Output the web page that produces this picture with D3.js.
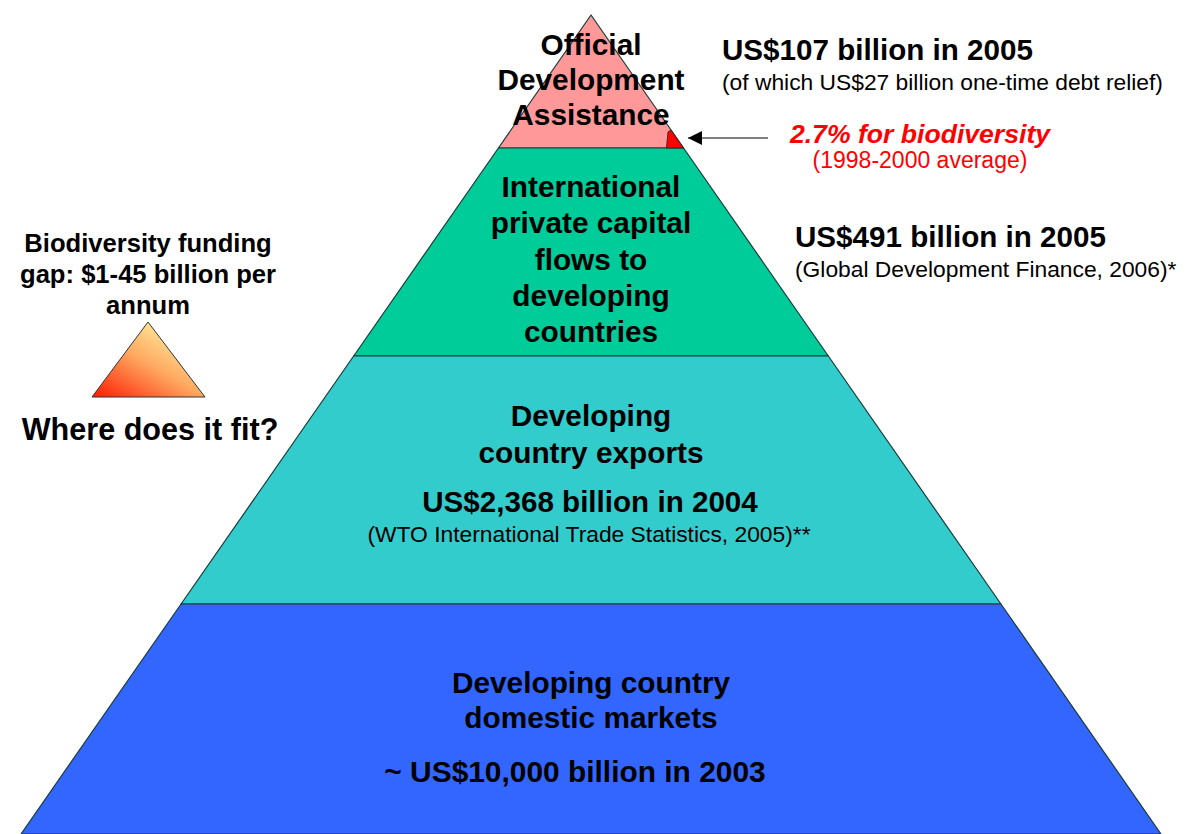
<!DOCTYPE html>
<html>
<head>
<meta charset="utf-8">
<script src="https://cdn.jsdelivr.net/npm/d3@7"></script>
<style>
	html, body { margin: 0; padding: 0; background: #fff; }
	svg { display: block; font-family: 'Liberation Sans', Arial, sans-serif; }
</style>
</head>
<body>
<div id="canvas"></div>
<script>
// tiers, top to bottom
const tierLabels = [
	['Official', 'Development', 'Assistance'],
	['International', 'private capital', 'flows to', 'developing', 'countries'],
	['Developing', 'country exports'],
	['Developing country', 'domestic markets']
];
const tierValues = [107, 491, 2368, 10000]; // US$ billion
const tierYears = [2005, 2005, 2004, 2003];
const tierValueText = ['US$107 billion in 2005', 'US$491 billion in 2005', 'US$2,368 billion in 2004', '~ US$10,000 billion in 2003'];
const tierNotes = ['(of which US$27 billion one-time debt relief)', '(Global Development Finance, 2006)*', '(WTO International Trade Statistics, 2005)**', ''];
const tierColors = ['#FF9999', '#00CC99', '#33CCCC', '#3366FF'];

const bioShare = 2.7; // % of ODA
const bioText = ['2.7% for biodiversity', '(1998-2000 average)'];
const gapText = ['Biodiversity funding', 'gap: $1-45 billion per', 'annum'];
const fitText = 'Where does it fit?';

function onLoad () {
	const w = 1186, h = 834;
	const apex = [591, 15];
	const bounds = [15, 148, 356, 604, 834]; // tier boundaries (px)
	const noteSize = '22.8px';
	const valueSize = '29.6px';

	const svg = d3.select('#canvas').append('svg')
		.attr('width', w)
		.attr('height', h)
		.attr('viewBox', [0, 0, w, h]);

	// half width of the pyramid at a given y
	const half = d3.scaleLinear()
		.domain([apex[1], h])
		.range([0, 570]);

	const tiers = tierLabels.map((d, i) => ({
		lines: d, value: tierValues[i], year: tierYears[i], text: tierValueText[i], note: tierNotes[i],
		color: tierColors[i], y0: bounds[i], y1: bounds[i + 1]
	}));

	svg.append('g').attr('class', 'tiers')
	.selectAll('path').data(tiers).join('path')
		.attr('d', d => {
			const pts = d.y0 === apex[1]
				? [apex, [apex[0] + half(d.y1), d.y1], [apex[0] - half(d.y1), d.y1]]
				: [[apex[0] - half(d.y0), d.y0], [apex[0] + half(d.y0), d.y0], [apex[0] + half(d.y1), d.y1], [apex[0] - half(d.y1), d.y1]];
			return d3.line()(pts) + 'Z';
		})
		.style('fill', d => d.color)
		.style('stroke', '#1a3a3a')
		.style('stroke-width', 1.2)
		.style('stroke-linejoin', 'round');

	// biodiversity sliver in the ODA corner
	const oda = tiers[0];
	const sh = Math.sqrt(bioShare) * 11; // small corner triangle
	const bx = apex[0] + half(oda.y1);
	svg.append('path')
		.attr('d', d3.line()([[apex[0] + half(oda.y1 - sh), oda.y1 - sh], [bx, oda.y1], [bx - sh * 0.95, oda.y1], [apex[0] + half(oda.y1 - sh) - 3, oda.y1 - sh + 2]]) + 'Z')
		.style('fill', '#FF0000')
		.style('stroke', '#222')
		.style('stroke-width', 0.8);

	// labels inside tiers
	const labelPos = [[55, 35], [197, 36.3], [426, 37], [693, 35]];
	const lab = svg.append('g').attr('class', 'tier-labels')
		.style('font-weight', 'bold')
		.style('font-size', '29.8px')
		.attr('text-anchor', 'middle');
	tiers.forEach((d, i) => {
		lab.append('text')
			.selectAll('tspan').data(d.lines).join('tspan')
			.attr('x', apex[0])
			.attr('y', (c, j) => labelPos[i][0] + j * labelPos[i][1])
			.text(c => c);
	});

	// values inside the lower tiers
	svg.append('text')
		.attr('x', apex[0] - 1).attr('y', 512)
		.attr('text-anchor', 'middle')
		.style('font-weight', 'bold').style('font-size', valueSize)
		.text(tiers[2].text);
	svg.append('text')
		.attr('x', apex[0] - 2).attr('y', 542)
		.attr('text-anchor', 'middle')
		.style('font-size', noteSize)
		.text(tiers[2].note);
	svg.append('text')
		.attr('x', 575).attr('y', 782)
		.attr('text-anchor', 'middle')
		.style('font-weight', 'bold').style('font-size', '29.9px')
		.text(tiers[3].text);

	// values to the right of the upper tiers
	const side = [[722, 60, 90], [795, 247, 277]];
	side.forEach((p, i) => {
		svg.append('text')
			.attr('x', p[0]).attr('y', p[1])
			.style('font-weight', 'bold').style('font-size', valueSize)
			.text(tiers[i].text);
		svg.append('text')
			.attr('x', p[0]).attr('y', p[2])
			.style('font-size', noteSize)
			.text(tiers[i].note);
	});

	// arrow pointing to the biodiversity sliver
	svg.append('defs').append('marker')
		.attr('id', 'head')
		.attr('viewBox', '0 0 10 10')
		.attr('refX', 10).attr('refY', 5)
		.attr('markerWidth', 14).attr('markerHeight', 14)
		.attr('markerUnits', 'userSpaceOnUse')
		.attr('orient', 'auto')
	.append('path')
		.attr('d', 'M0,0L10,5L0,10Z')
		.style('fill', '#000');
	svg.append('line')
		.attr('x1', 768).attr('y1', 138)
		.attr('x2', 688).attr('y2', 138)
		.style('stroke', '#000')
		.style('stroke-width', 1)
		.attr('marker-end', 'url(#head)');

	svg.append('text')
		.attr('x', 920).attr('y', 143)
		.attr('text-anchor', 'middle')
		.style('fill', '#FF0000')
		.style('font-weight', 'bold').style('font-style', 'italic').style('font-size', '26.6px')
		.text(bioText[0]);
	svg.append('text')
		.attr('x', 920).attr('y', 168)
		.attr('text-anchor', 'middle')
		.style('fill', '#FF0000')
		.style('font-size', '23px')
		.text(bioText[1]);

	// funding gap, left side
	svg.append('text')
		.attr('text-anchor', 'middle')
		.style('font-weight', 'bold').style('font-size', '25.6px')
		.selectAll('tspan').data(gapText).join('tspan')
		.attr('x', 148)
		.attr('y', (d, i) => 252 + i * 31)
		.text(d => d);

	const grad = svg.select('defs').append('linearGradient')
		.attr('id', 'gap')
		.attr('x1', 0).attr('y1', 1)
		.attr('x2', 0.8).attr('y2', 0.1);
	grad.append('stop').attr('offset', 0).attr('stop-color', '#FF1A00');
	grad.append('stop').attr('offset', 0.55).attr('stop-color', '#FFA860');
	grad.append('stop').attr('offset', 1).attr('stop-color', '#FFF0A0');

	svg.append('path')
		.attr('d', d3.line()([[148, 322], [205, 397], [92, 397]]) + 'Z')
		.style('fill', 'url(#gap)')
		.style('stroke', '#333')
		.style('stroke-width', 1);

	svg.append('text')
		.attr('x', 150).attr('y', 440)
		.attr('text-anchor', 'middle')
		.style('font-weight', 'bold').style('font-size', '30.6px')
		.text(fitText);
}

if (document.readyState === 'loading') {
	document.addEventListener('DOMContentLoaded', onLoad);
} else {
	onLoad();
}
</script>
</body>
</html>
